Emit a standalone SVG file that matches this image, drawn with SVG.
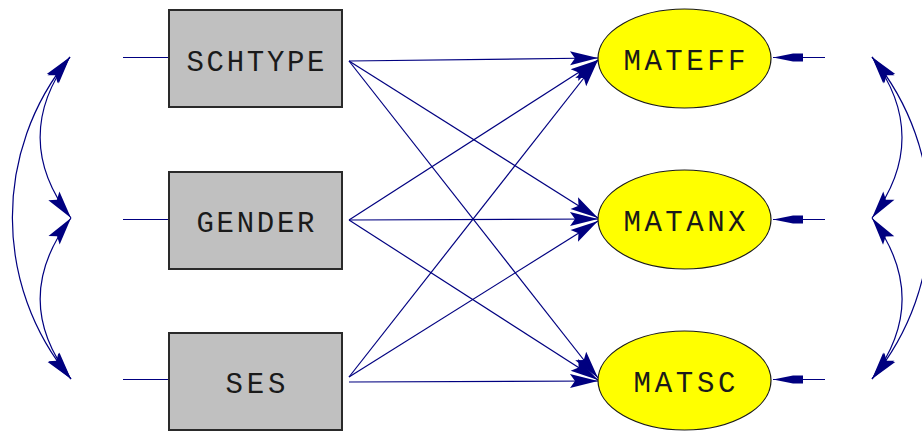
<svg xmlns="http://www.w3.org/2000/svg" width="922" height="432" viewBox="0 0 922 432">
  <style>
    .obs rect { fill: #c0c0c0; stroke: #2a2a2a; stroke-width: 2; }
    .lat ellipse { fill: #ffff00; stroke: #1a1a1a; stroke-width: 1.2; }
    .lbl { font-family: "Liberation Mono", "Courier New", monospace; font-size: 29px; fill: #1a1a1a; text-anchor: middle; }
    .edge { fill: none; stroke: #000080; stroke-width: 1.2; }
  </style>
  <defs>
    <marker id="head" viewBox="-29 -8 30 16" refX="0" refY="0" markerWidth="30" markerHeight="16" markerUnits="userSpaceOnUse" orient="auto-start-reverse">
      <path d="M0,0 L-28,-7 L-23,0 L-28,7 Z" fill="#000080"/>
    </marker>
    <marker id="errhead" viewBox="-31 -5 32 10" refX="0" refY="0" markerWidth="32" markerHeight="10" markerUnits="userSpaceOnUse" orient="auto">
      <path d="M0,0 L-20,-4 L-30,-4 L-30,4 L-20,4 Z" fill="#000080"/>
    </marker>
  </defs>

  <!-- connectors -->
  <g id="connectors" class="edges">
    <!-- error terms on the observed variables -->
    <line class="edge" x1="123" y1="57.5" x2="169" y2="57.5"/>
    <line class="edge" x1="123" y1="219.5" x2="169" y2="219.5"/>
    <line class="edge" x1="123" y1="379.5" x2="169" y2="379.5"/>

    <!-- covariances among the observed variables -->
    <path class="edge" d="M70,57 C30,110 30,165 71,218" marker-start="url(#head)" marker-end="url(#head)"/>
    <path class="edge" d="M71,218 C30,272 30,326 71,379" marker-start="url(#head)" marker-end="url(#head)"/>
    <path class="edge" d="M70,57 C-7,150 -7,286 71,379" marker-start="url(#head)" marker-end="url(#head)"/>

    <!-- regression paths -->
    <line class="edge" x1="349" y1="61" x2="598" y2="58" marker-end="url(#head)"/>
    <line class="edge" x1="349" y1="61" x2="598" y2="218" marker-end="url(#head)"/>
    <line class="edge" x1="349" y1="61" x2="598" y2="378" marker-end="url(#head)"/>
    <line class="edge" x1="349" y1="220" x2="598" y2="60" marker-end="url(#head)"/>
    <line class="edge" x1="349" y1="220" x2="598" y2="219" marker-end="url(#head)"/>
    <line class="edge" x1="349" y1="220" x2="598" y2="380" marker-end="url(#head)"/>
    <line class="edge" x1="349" y1="377" x2="598" y2="60" marker-end="url(#head)"/>
    <line class="edge" x1="349" y1="377" x2="598" y2="221" marker-end="url(#head)"/>
    <line class="edge" x1="349" y1="382" x2="598" y2="381" marker-end="url(#head)"/>

    <!-- disturbances on the latent variables -->
    <line class="edge" x1="825" y1="57.5" x2="773" y2="57.5" marker-end="url(#errhead)"/>
    <line class="edge" x1="825" y1="219.5" x2="773" y2="219.5" marker-end="url(#errhead)"/>
    <line class="edge" x1="825" y1="379.5" x2="773" y2="379.5" marker-end="url(#errhead)"/>

    <!-- covariances among the disturbances -->
    <path class="edge" d="M872,57 C912,110 912,165 872,218" marker-start="url(#head)" marker-end="url(#head)"/>
    <path class="edge" d="M872,218 C912,272 912,326 872,379" marker-start="url(#head)" marker-end="url(#head)"/>
    <path class="edge" d="M872,57 C949,150 949,286 872,379" marker-start="url(#head)" marker-end="url(#head)"/>
  </g>

  <!-- observed variables -->
  <g id="SCHTYPE" class="obs">
    <rect x="169" y="10" width="173" height="97"/>
    <text class="lbl" x="255.5" y="71" textLength="138" lengthAdjust="spacing">SCHTYPE</text>
  </g>
  <g id="GENDER" class="obs">
    <rect x="169" y="172" width="173" height="97"/>
    <text class="lbl" x="255.5" y="232" textLength="118" lengthAdjust="spacing">GENDER</text>
  </g>
  <g id="SES" class="obs">
    <rect x="169" y="333" width="173" height="97"/>
    <text class="lbl" x="255.5" y="393" textLength="60" lengthAdjust="spacing">SES</text>
  </g>

  <!-- latent variables -->
  <g id="MATEFF" class="lat">
    <ellipse cx="684.5" cy="58.5" rx="86.5" ry="49.5"/>
    <text class="lbl" x="684.5" y="70" textLength="122" lengthAdjust="spacing">MATEFF</text>
  </g>
  <g id="MATANX" class="lat">
    <ellipse cx="684.5" cy="219.5" rx="86.5" ry="49.5"/>
    <text class="lbl" x="684.5" y="231" textLength="122" lengthAdjust="spacing">MATANX</text>
  </g>
  <g id="MATSC" class="lat">
    <ellipse cx="684.5" cy="380.5" rx="86.5" ry="49.5"/>
    <text class="lbl" x="684.5" y="392" textLength="102" lengthAdjust="spacing">MATSC</text>
  </g>
</svg>
